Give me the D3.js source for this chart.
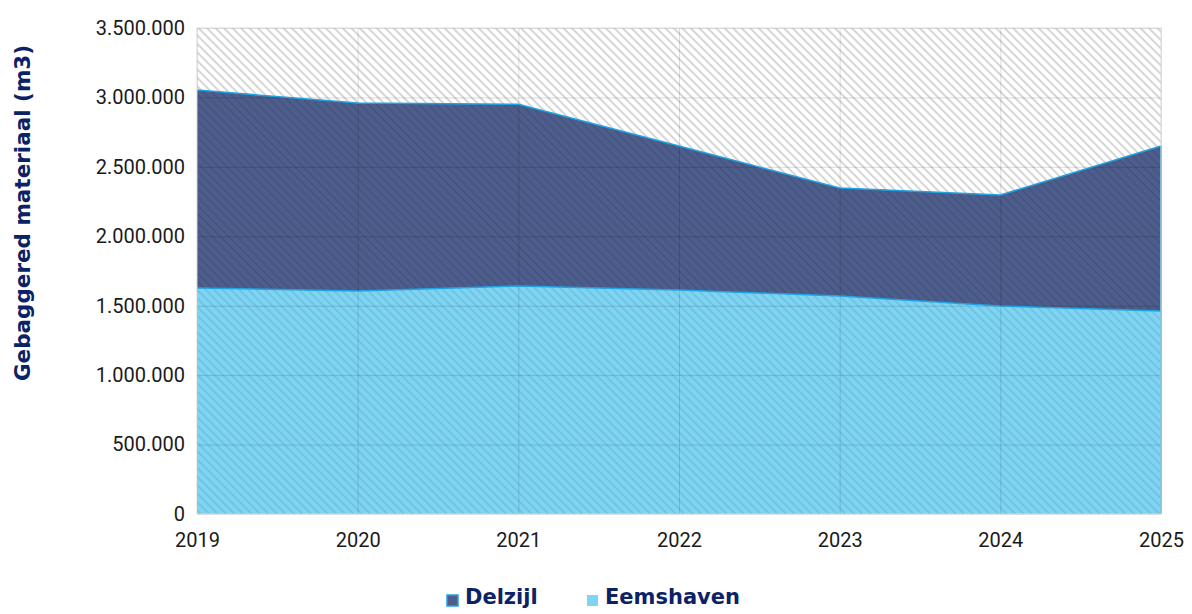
<!DOCTYPE html>
<html>
<head>
<meta charset="utf-8">
<script src="https://d3js.org/d3.v7.min.js"></script>
<style>
  body { margin: 0; background: #fff; }
  .tick text { font-family: Roboto, 'Liberation Sans', sans-serif; font-size: 20px; fill: #1a1a1a; }
  .title { font-family: 'DejaVu Sans', sans-serif; font-weight: bold; fill: #0b2265; }
</style>
</head>
<body>
<svg id="chart" width="1192" height="614"></svg>
<script>
// data (m3)
const years = ["2019", "2020", "2021", "2022", "2023", "2024", "2025"];
const eemshaven = [1628000, 1606000, 1642000, 1613000, 1570000, 1498000, 1462000];
const delzijl = [1425000, 1354000, 1308000, 1037000, 778000, 799000, 1188000];
const yTicks = [0, 500000, 1000000, 1500000, 2000000, 2500000, 3000000, 3500000];

const colDark = "#4d5d8c";
const colLight = "#7dd4f3";
const colEdge = "#1fa3e3";

const svg = d3.select("#chart");
const margin = {top: 28, right: 31, bottom: 100, left: 197};
const width = 1192 - margin.left - margin.right,
      height = 614 - margin.top - margin.bottom;

const defs = svg.append("defs");
function hatch(id, bg, stroke, op) {
  const p = defs.append("pattern")
    .attr("id", id)
    .attr("patternUnits", "userSpaceOnUse")
    .attr("width", 6).attr("height", 6)
    .attr("patternTransform", "rotate(-45)");
  if (bg) p.append("rect").attr("width", 6).attr("height", 6).attr("fill", bg);
  p.append("rect").attr("x", 0).attr("width", 2).attr("height", 6)
    .attr("fill", stroke).attr("opacity", op);
}
hatch("bgHatch", "#fff", "#d6d6d6", 1);
hatch("ovHatch", null, "#000", 0.08);

const g = svg.append("g").attr("transform", "translate(" + margin.left + "," + margin.top + ")");

const x = d3.scalePoint().domain(years).range([0, width]);
const y = d3.scaleLinear().domain([0, 3500000]).range([height, 0]);

// background hatch
g.append("rect").attr("width", width).attr("height", height).attr("fill", "url(#bgHatch)");

const data = years.map((yr, i) => ({year: yr, e: eemshaven[i], d: delzijl[i]}));

const areaE = d3.area().x(d => x(d.year)).y0(y(0)).y1(d => y(d.e));
const areaD = d3.area().x(d => x(d.year)).y0(d => y(d.e)).y1(d => y(d.e + d.d));

g.append("path").datum(data).attr("d", areaE).attr("fill", colLight);
g.append("path").datum(data).attr("d", areaD).attr("fill", colDark);

// hatch overlay on the areas
g.append("path").datum(data)
  .attr("d", d3.area().x(d => x(d.year)).y0(y(0)).y1(d => y(d.e + d.d)))
  .attr("fill", "url(#ovHatch)");

// gridlines
const fmt = v => d3.format(",")(v).replace(/,/g, ".");
g.append("g")
  .call(d3.axisLeft(y).tickValues(yTicks).tickSize(-width).tickFormat(fmt).tickPadding(12))
  .call(a => a.select(".domain").remove())
  .call(a => a.selectAll(".tick line").attr("stroke", "#000").attr("stroke-opacity", 0.13));

g.append("g")
  .attr("transform", "translate(0," + height + ")")
  .call(d3.axisBottom(x).tickSize(-height).tickPadding(19))
  .call(a => a.select(".domain").remove())
  .call(a => a.selectAll(".tick line").attr("stroke", "#000").attr("stroke-opacity", 0.13));

// edges of the stacked areas
g.append("path").datum(data)
  .attr("d", d3.line().x(d => x(d.year)).y(d => y(d.e)))
  .attr("fill", "none").attr("stroke", colEdge).attr("stroke-width", 1.5);
g.append("path").datum(data)
  .attr("d", d3.line().x(d => x(d.year)).y(d => y(d.e + d.d)))
  .attr("fill", "none").attr("stroke", colEdge).attr("stroke-width", 1.5);
g.append("line")
  .attr("x1", width).attr("x2", width)
  .attr("y1", y(0)).attr("y2", y(eemshaven[6] + delzijl[6]))
  .attr("stroke", colEdge).attr("stroke-width", 1.5);

// plot border
g.append("rect").attr("width", width).attr("height", height)
  .attr("fill", "none").attr("stroke", "#d9d9d9");

// axis title
svg.append("text")
  .attr("class", "title")
  .attr("transform", "translate(30,213) rotate(-90)")
  .attr("text-anchor", "middle")
  .attr("font-size", 21.5)
  .text("Gebaggered materiaal (m3)");

// legend
const legend = [
  {name: "Delzijl", fill: colDark, stroke: colEdge, x: 447},
  {name: "Eemshaven", fill: colLight, stroke: "none", x: 587}
];
legend.forEach(l => {
  svg.append("rect").attr("x", l.x).attr("y", 595).attr("width", 11).attr("height", 11)
    .attr("fill", l.fill).attr("stroke", l.stroke).attr("stroke-width", 1.5);
  svg.append("text").attr("class", "title").attr("x", l.x + 18).attr("y", 604)
    .attr("font-size", 21).text(l.name);
});
</script>
</body>
</html>
